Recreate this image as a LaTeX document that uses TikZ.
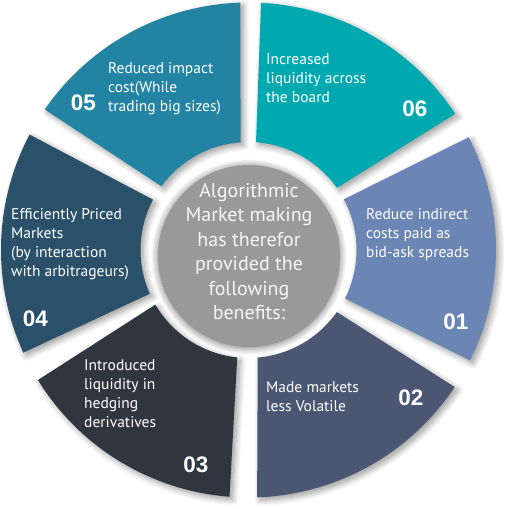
\documentclass[tikz,border=0pt]{standalone}
\usepackage{fontspec}
\setmainfont{PT Sans}
\newfontfamily\numfont{Liberation Sans}
\usetikzlibrary{shadows.blur}
\definecolor{cA}{HTML}{6B86B4}
\definecolor{cB}{HTML}{4A5672}
\definecolor{cC}{HTML}{2F3640}
\definecolor{cD}{HTML}{2B5069}
\definecolor{cE}{HTML}{2283A2}
\definecolor{cF}{HTML}{00A9B0}
\definecolor{cG}{HTML}{999999}
\newcommand\ringseg[5]{\path[seg=#1, shift={(248.5,259)}] (#2:247.5) arc[start angle=#2, end angle=#3, radius=247.5] -- (#4:108) arc[start angle=#4, end angle=#5, radius=108] -- cycle;}
\begin{document}
\begin{tikzpicture}[x=1pt,y=1pt,
  seg/.style={fill=#1, blur shadow={shadow xshift=3pt, shadow yshift=-3pt, shadow blur radius=6pt, shadow blur steps=8, shadow opacity=40}},
  lbl/.style={text=white, font=\fontsize{15.5}{19}\selectfont, align=left, anchor=north west, inner sep=0pt},
  num/.style={text=white, font=\numfont\bfseries\fontsize{22.5}{22.5}\selectfont, inner sep=0pt, anchor=center}]
\useasboundingbox (0,0) rectangle (512,509);
% ring segments
\ringseg{cF}{33.4}{87.1}{86}{35.1}
\ringseg{cE}{91.9}{145.4}{143.8}{94.2}
\ringseg{cD}{152.2}{204.5}{203.9}{152.2}
\ringseg{cC}{211.7}{265.6}{264}{210.4}
\ringseg{cB}{272}{326.4}{324.9}{274.9}
\ringseg{cA}{-26.5}{27.1}{28}{-26.7}
% centre circle
\path[fill=cG, blur shadow={shadow xshift=0pt, shadow yshift=-1pt, shadow blur radius=7pt, shadow blur steps=8, shadow opacity=55}] (249,253) circle[radius=91];
\node[text=white!96!black, font=\fontsize{20}{24.5}\selectfont, align=center, anchor=north, inner sep=0pt] (hub) at (249,326) {Algorithmic\\Market making\\has therefor\\provided the\\following\\benefits:};
% labels
\node[lbl] (t05) at (108,447) {Reduced impact\\cost(While\\trading big sizes)};
\node[lbl] (t06) at (266,456) {Increased\\liquidity across\\the board};
\node[lbl] (t01) at (366,301) {Reduce indirect\\costs paid as\\bid-ask spreads};
\node[lbl] (t02) at (266,128) {Made markets\\less Volatile};
\node[lbl] (t03) at (84,150) {Introduced\\liquidity in\\hedging\\derivatives};
\node[lbl] (t04) at (11,301) {Efficiently Priced\\Markets\\(by interaction\\with arbitrageurs)};
% numbers
\node[num] (n05) at (83.5,406) {05};
\node[num] (n06) at (415,400.5) {06};
\node[num] (n01) at (456,187) {01};
\node[num] (n02) at (411,111) {02};
\node[num] (n03) at (196,44) {03};
\node[num] (n04) at (35.5,190) {04};
\end{tikzpicture}
\end{document}
